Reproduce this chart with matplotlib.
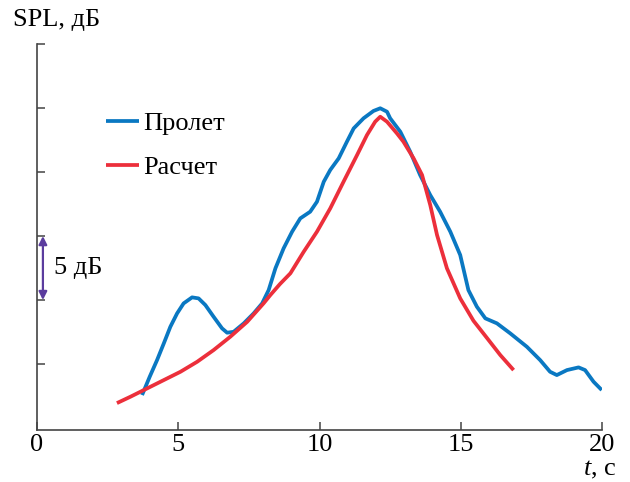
import numpy as np
import matplotlib
matplotlib.use("Agg")
import matplotlib.pyplot as plt

plt.rcParams['font.family'] = ['Liberation Serif', 'DejaVu Serif']
plt.rcParams['mathtext.fontset'] = 'custom'
plt.rcParams['mathtext.rm'] = 'Liberation Serif'
plt.rcParams['mathtext.it'] = 'Liberation Serif:italic'

# measured flyover (Пролет)
t_fly = [3.72, 3.99, 4.25, 4.49, 4.72, 4.96, 5.19, 5.49, 5.72, 5.96, 6.25,
         6.55, 6.73, 6.96, 7.32, 7.67, 7.97, 8.20, 8.44, 8.73, 9.03, 9.32,
         9.67, 9.91, 10.15, 10.38, 10.68, 10.97, 11.21, 11.56, 11.91, 12.15,
         12.39, 12.50, 12.86, 13.21, 13.56, 13.92, 14.27, 14.63, 14.98, 15.27,
         15.57, 15.87, 16.28, 16.75, 17.34, 17.81, 18.16, 18.40, 18.76, 19.17,
         19.40, 19.70, 19.99]
spl_fly = [2.58, 4.01, 5.31, 6.62, 7.91, 8.96, 9.74, 10.21, 10.13, 9.61, 8.70,
           7.79, 7.45, 7.52, 8.18, 8.96, 9.74, 10.78, 12.48, 14.04, 15.34, 16.38,
           16.90, 17.68, 19.24, 20.16, 21.07, 22.37, 23.41, 24.20, 24.77, 24.98,
           24.71, 24.20, 23.15, 21.59, 19.77, 18.20, 16.90, 15.34, 13.52, 10.78,
           9.48, 8.57, 8.18, 7.40, 6.35, 5.31, 4.40, 4.14, 4.53, 4.74,
           4.53, 3.62, 2.97]

# calculation (Расчет)
t_calc = [2.83, 3.31, 3.90, 4.49, 5.08, 5.67, 6.25, 6.84, 7.44, 8.02, 8.26,
          8.60, 8.97, 9.44, 9.91, 10.38, 10.85, 11.33, 11.68, 11.97, 12.15, 12.39,
          12.74, 12.97, 13.33, 13.63, 13.92, 14.16, 14.51, 14.98, 15.45, 15.93,
          16.40, 16.87]
spl_calc = [1.95, 2.45, 3.10, 3.75, 4.40, 5.18, 6.09, 7.13, 8.30, 9.74, 10.39,
            11.25, 12.09, 13.77, 15.34, 17.16, 19.24, 21.33, 22.89, 23.93, 24.32,
            23.93, 23.02, 22.37, 21.07, 19.77, 17.42, 15.08, 12.48, 10.13, 8.38,
            7.03, 5.70, 4.53]

xticks = [0, 5, 10, 15, 20]
yticks = [5, 10, 15, 20, 25, 30]

fig = plt.figure(figsize=(6.3, 4.82), dpi=100)
ax = fig.add_axes([0.0587, 0.1079, 0.8969, 0.8008])

ax.plot(t_fly, spl_fly, color='#0a78c2', lw=2.7, solid_joinstyle='round',
        solid_capstyle='butt', label='Пролет')
ax.plot(t_calc, spl_calc, color='#ec2f3b', lw=2.7, solid_joinstyle='round',
        solid_capstyle='butt', label='Расчет')

ax.set_xlim(0, 20)
ax.set_ylim(-0.15, 30)
ax.set_xticks(xticks)
ax.set_yticks(yticks)
ax.set_yticklabels([])
ax.tick_params(direction='in', length=6, width=1.1, color='#444444',
               labelsize=19, pad=3)
for s in ['top', 'right']:
    ax.spines[s].set_visible(False)
for s in ['left', 'bottom']:
    ax.spines[s].set_color('#444444')
    ax.spines[s].set_linewidth(1.2)

# 5 dB scale arrow
ax.annotate('', xy=(0.21, 10), xytext=(0.21, 15),
            arrowprops=dict(arrowstyle='<|-|>', color='#5b3c9e', lw=1.6,
                            mutation_scale=12, shrinkA=0, shrinkB=0))
ax.text(0.62, 12.5, '5 дБ', fontsize=19, va='center', ha='left')

ax.legend(loc='center left', bbox_to_anchor=(0.122, 0.738), frameon=False,
          fontsize=19, handlelength=1.25, handletextpad=0.15, labelspacing=0.77,
          borderaxespad=0, borderpad=0)

fig.text(13 / 630, 1 - 20 / 482, 'SPL, дБ', fontsize=19, ha='left', va='center')
fig.text(616 / 630, 1 - 470 / 482, r'$t$, с', fontsize=19, ha='right', va='center')

fig.savefig('out.png', dpi=100)
